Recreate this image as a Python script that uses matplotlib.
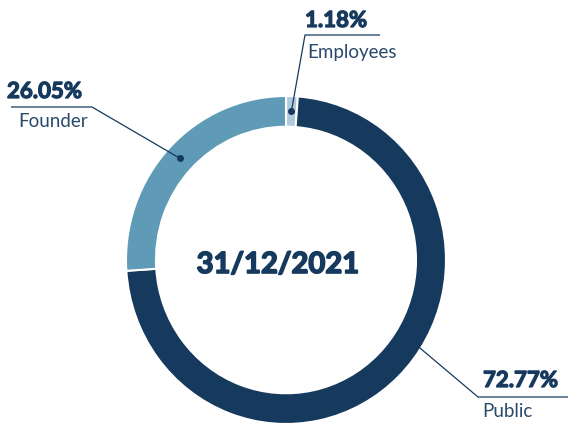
import matplotlib
matplotlib.use('Agg')
import matplotlib.pyplot as plt
import matplotlib.patheffects as pe
import numpy as np

# Ownership split (clockwise from the top)
labels = ['Employees', 'Public', 'Founder']
shares = [1.18, 72.77, 26.05]
colors = ['#b0cbdc', '#16395e', '#5f9ab6']
date_label = '31/12/2021'

NAVY = '#16395e'
W, H = 568, 423
STRETCH = 1.025  # the ring is slightly taller than wide

plt.rcParams['font.family'] = ['Lato', 'DejaVu Sans']

fig = plt.figure(figsize=(W / 100, H / 100), dpi=100)
ax = fig.add_axes([0, 0, 1, 1])

# work in pixel units, y measured from the top
cx, cy, r_out, ring = 286, 260, 160, 30


def py(y):
    return (H - y) / STRETCH


wedges, _ = ax.pie(shares, colors=colors, startangle=90, counterclock=False,
                   center=(cx, py(cy)), radius=r_out,
                   wedgeprops=dict(width=ring, edgecolor='white', linewidth=1.5))
ax.set_xlim(0, W)
ax.set_ylim(0, H / STRETCH)
ax.set_aspect('auto')
ax.axis('off')


def ring_point(theta_deg):
    rm = r_out - ring / 2
    t = np.deg2rad(theta_deg)
    return cx + rm * np.cos(t), py(cy) + rm * np.sin(t)


def mid_angle(w):
    return (w.theta1 + w.theta2) / 2


# heavier look for the bold numbers
heavy = [pe.withStroke(linewidth=0.9, foreground=NAVY)]

callouts = {
    'Employees': dict(theta=mid_angle(wedges[0]), elbow=(305, 35), end=380,
                      pct=(305, 27), name=(307, 58)),
    'Public': dict(theta=-32, elbow=(478, 397), end=568,
                   pct=(483, 387), name=(482, 417)),
    'Founder': dict(theta=mid_angle(wedges[2]), elbow=(92, 107), end=11,
                    pct=(7, 98), name=(18, 127)),
}

for lab, share in zip(labels, shares):
    c = callouts[lab]
    x0, y0 = ring_point(c['theta'])
    ex, ey = c['elbow']
    ax.plot([x0, ex, c['end']], [y0, py(ey), py(ey)], color=NAVY, lw=0.9,
            solid_capstyle='butt')
    ax.plot([x0], [y0], 'o', color=NAVY, ms=4)
    ax.text(c['pct'][0], py(c['pct'][1]), f'{share:.2f}%', fontsize=16,
            fontweight='bold', color=NAVY, ha='left', va='baseline',
            path_effects=heavy)
    ax.text(c['name'][0], py(c['name'][1]), lab, fontsize=13.5,
            color='#2a4a6b', ha='left', va='baseline')

ax.text(278, py(273), date_label, fontsize=21, fontweight='bold', color=NAVY,
        ha='center', va='baseline',
        path_effects=[pe.withStroke(linewidth=1.2, foreground=NAVY)])

fig.savefig('out.png', dpi=100, facecolor='white')
